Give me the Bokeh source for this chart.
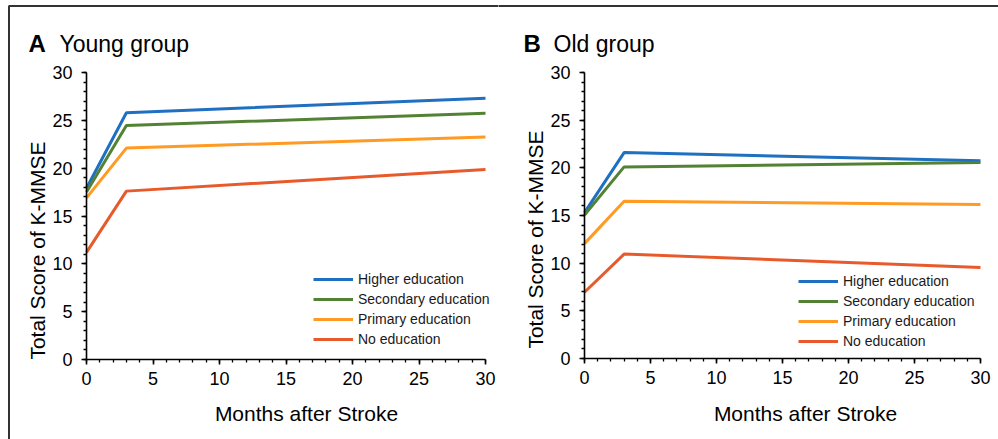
import math
from bokeh.plotting import figure
from bokeh.models import Range1d, Label, Legend, LegendItem, FixedTicker, BoxAnnotation
from bokeh.layouts import row
from bokeh.embed import file_html
from bokeh.resources import INLINE

months = [0, 3, 30]
series_names = ["Higher education", "Secondary education", "Primary education", "No education"]
colors = ["#1f70c1", "#548235", "#ff9a22", "#e85a2b"]

young_higher = [17.9, 25.8, 27.3]
young_secondary = [17.5, 24.45, 25.75]
young_primary = [16.9, 22.1, 23.25]
young_none = [11.2, 17.6, 19.85]

old_higher = [15.3, 21.6, 20.75]
old_secondary = [15.05, 20.1, 20.55]
old_primary = [12.05, 16.5, 16.15]
old_none = [6.95, 10.95, 9.55]

x_ticks = [0, 5, 10, 15, 20, 25, 30]
y_ticks = [0, 5, 10, 15, 20, 25, 30]
x_limits = (0, 30)
y_limits = (0, 30)

FONT = "Liberation Sans"
H = 439


def make_panel(letter, title, data, canvas_left, width, ax_left, ax_right, ax_top, ax_bottom,
               letter_xy, title_xy, ylab_xy, xlab_xy, legend_xy, frame_left):
    # pixel geometry (page coordinates) of the 0..30 axis box
    sx = (ax_right - ax_left) / (x_limits[1] - x_limits[0])
    sy = (ax_bottom - ax_top) / (y_limits[1] - y_limits[0])

    def dx(px):
        return x_limits[0] + (px - ax_left) / sx

    def dy(py):
        return y_limits[0] + (ax_bottom - py) / sy

    p = figure(width=width, height=H, output_backend="svg", toolbar_location=None,
               x_range=Range1d(dx(canvas_left), dx(canvas_left + width)),
               y_range=Range1d(dy(H), dy(0)), min_border=0)
    p.outline_line_color = None
    p.grid.grid_line_color = None
    p.xaxis.fixed_location = y_limits[0]
    p.yaxis.fixed_location = x_limits[0]
    p.xaxis.bounds = x_limits
    p.yaxis.bounds = y_limits
    for ax in (p.xaxis[0], p.yaxis[0]):
        ax.axis_line_color = "black"
        ax.axis_line_width = 1.6
        ax.major_tick_line_color = "black"
        ax.major_tick_line_width = 1.6
        ax.minor_tick_line_color = "black"
        ax.minor_tick_line_width = 1.3
        ax.major_tick_out = 5
        ax.major_tick_in = 0
        ax.minor_tick_out = 3
        ax.minor_tick_in = 0
        ax.major_label_text_font = FONT
        ax.major_label_text_font_size = "18px"
        ax.major_label_text_color = "black"
    p.xaxis.ticker = FixedTicker(ticks=x_ticks, minor_ticks=list(range(0, 31)))
    p.yaxis.ticker = FixedTicker(ticks=y_ticks, minor_ticks=list(range(0, 31)))
    p.xaxis.major_label_standoff = 7
    p.yaxis.major_label_standoff = 9

    # figure frame: top and left edges only (right/bottom lie outside the canvas)
    p.add_layout(BoxAnnotation(left=dx(frame_left), top=dy(5.5),
                               right=dx(canvas_left + width + 20), bottom=dy(H + 20),
                               fill_alpha=0, line_color="#333333", line_alpha=1.0,
                               line_width=2))

    items = []
    for name, ys, c in zip(series_names, data, colors):
        r = p.line(months, ys, line_color=c, line_width=3)
        items.append(LegendItem(label=name, renderers=[r]))
    leg = Legend(items=items, location=(legend_xy[0] - canvas_left, H - legend_xy[1]),
                 orientation="vertical",
                 glyph_width=40, glyph_height=20, label_height=20, spacing=0,
                 label_standoff=5, padding=0, margin=0,
                 border_line_color=None, background_fill_alpha=0,
                 label_text_font=FONT, label_text_font_size="14px",
                 label_text_color="#1a1a1a")
    p.add_layout(leg, "center")

    def lab(xy, text, **kw):
        return Label(x=dx(xy[0]), y=dy(xy[1]), text=text, text_font=FONT,
                     text_color="black", **kw)

    p.add_layout(lab(letter_xy, letter, text_font_size="24px", text_font_style="bold",
                     text_baseline="alphabetic"))
    p.add_layout(lab(title_xy, title, text_font_size="23px", text_baseline="alphabetic"))
    p.add_layout(lab(ylab_xy, "Total Score of K-MMSE", angle=math.pi / 2,
                     text_align="center", text_baseline="middle", text_font_size="21px"))
    p.add_layout(lab(xlab_xy, "Months after Stroke", text_align="center",
                     text_baseline="middle", text_font_size="21px"))
    return p


p1 = make_panel("A", "Young group",
                [young_higher, young_secondary, young_primary, young_none],
                canvas_left=0, width=498, ax_left=86, ax_right=485, ax_top=72, ax_bottom=359,
                letter_xy=(28, 43), title_xy=(59, 43),
                ylab_xy=(37, 250), xlab_xy=(306, 413),
                legend_xy=(313, 349), frame_left=8.5)
p2 = make_panel("B", "Old group",
                [old_higher, old_secondary, old_primary, old_none],
                canvas_left=498, width=500, ax_left=584, ax_right=980, ax_top=72, ax_bottom=358,
                letter_xy=(523, 43), title_xy=(553, 43),
                ylab_xy=(535, 239), xlab_xy=(805, 413),
                legend_xy=(798, 351), frame_left=478)

layout = row(p1, p2)

open("out.html", "w").write(file_html(layout, INLINE))
